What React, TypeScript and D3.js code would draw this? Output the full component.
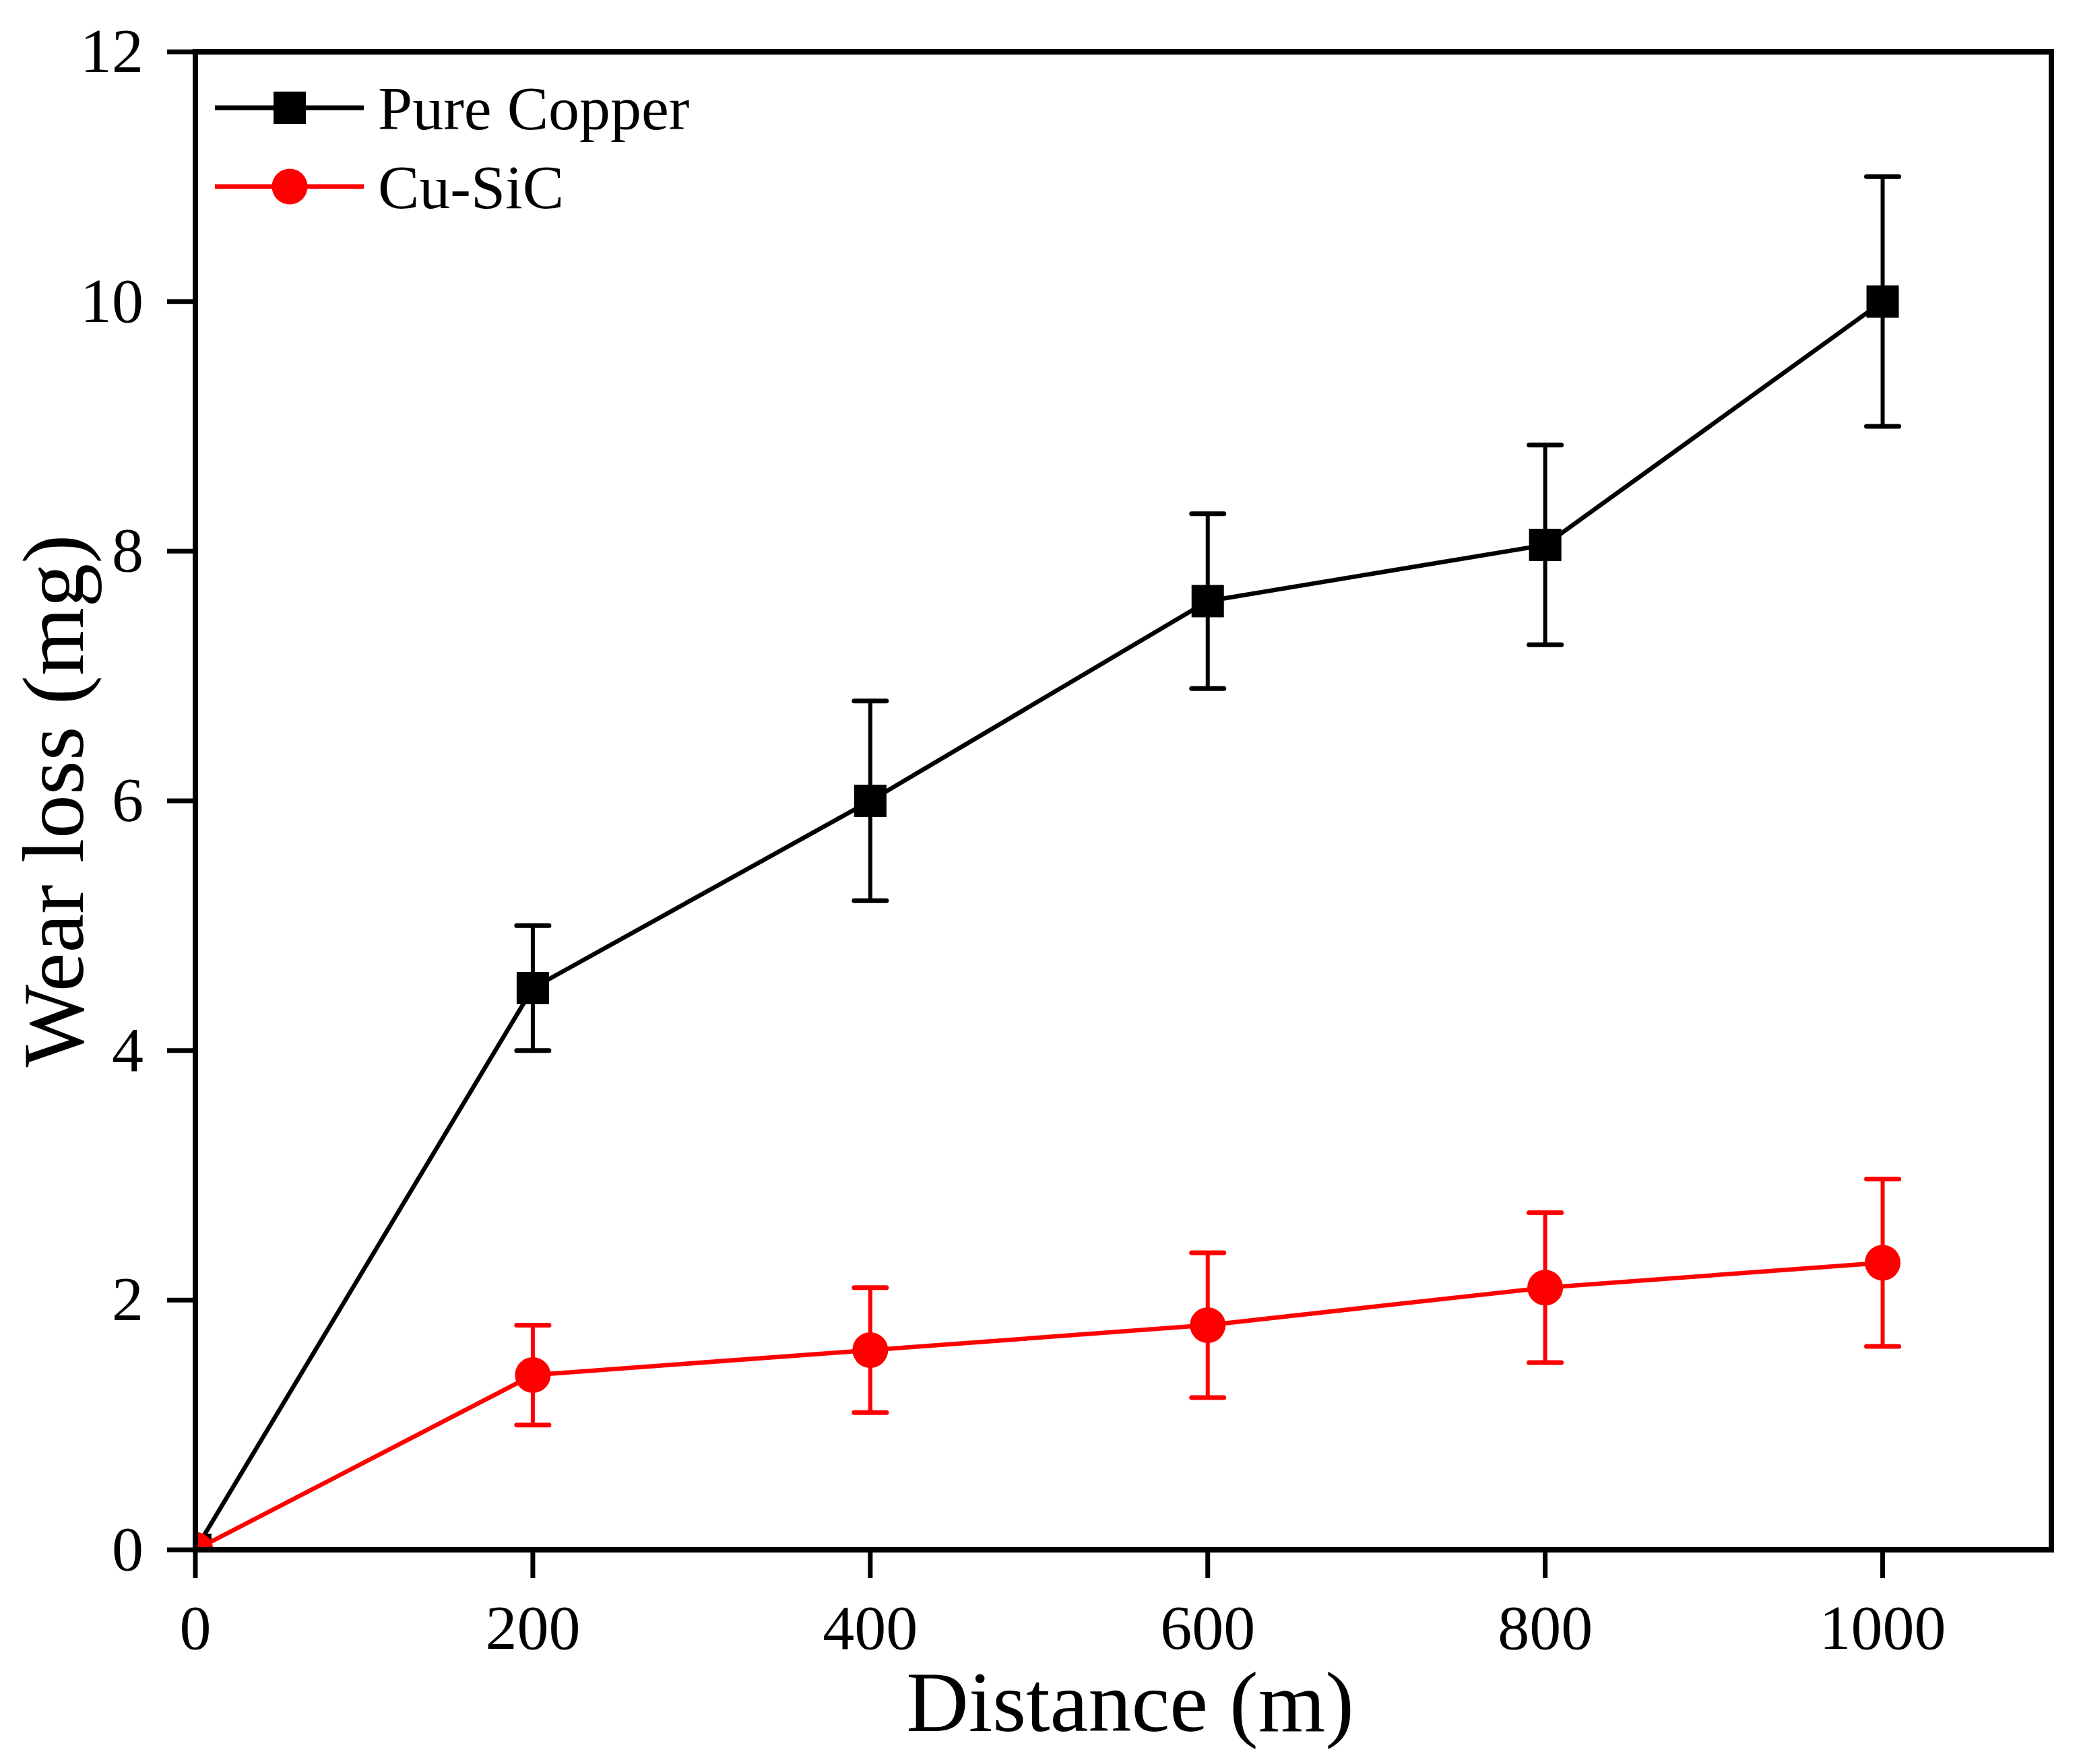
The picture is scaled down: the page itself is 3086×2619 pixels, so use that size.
import * as d3 from "d3";

const distances = [0, 200, 400, 600, 800, 1000];
const pureCopper = [0, 4.5, 6.0, 7.6, 8.05, 10.0];
const pureCopperLow = [0, 4.0, 5.2, 6.9, 7.25, 9.0];
const pureCopperHigh = [0, 5.0, 6.8, 8.3, 8.85, 11.0];
const cuSiC = [0, 1.4, 1.6, 1.8, 2.1, 2.3];
const cuSiCLow = [0, 1.0, 1.1, 1.22, 1.5, 1.63];
const cuSiCHigh = [0, 1.8, 2.1, 2.38, 2.7, 2.97];

const xTicks = [0, 200, 400, 600, 800, 1000];
const yTicks = [0, 2, 4, 6, 8, 10, 12];

const W = 3086;
const H = 2619;
const FONT = "'Liberation Serif', 'Times New Roman', serif";

interface Series {
  name: string;
  color: string;
  shape: "square" | "circle";
  values: number[];
  low: number[];
  high: number[];
}

const series: Series[] = [
  { name: "Pure Copper", color: "#000000", shape: "square", values: pureCopper, low: pureCopperLow, high: pureCopperHigh },
  { name: "Cu-SiC", color: "#ff0000", shape: "circle", values: cuSiC, low: cuSiCLow, high: cuSiCHigh },
];

function Marker({ shape, cx, cy, color }: { shape: string; cx: number; cy: number; color: string }) {
  if (shape === "square") {
    return <rect x={cx - 24} y={cy - 24} width={48} height={48} fill={color} />;
  }
  return <circle cx={cx} cy={cy} r={26.5} fill={color} />;
}

export default function App() {
  const x = d3.scaleLinear().domain([0, 1100]).range([290, 3045]);
  const y = d3.scaleLinear().domain([0, 12]).range([2301, 77]);
  const [x0, x1] = x.range();
  const [y0, y1] = y.range();

  const line = d3
    .line<number>()
    .x((_, i) => x(distances[i]))
    .y((d) => y(d));

  return (
    <svg
      width={W}
      height={H}
      viewBox={`0 0 ${W} ${H}`}
      style={{ position: "absolute", left: 0, top: 0, background: "#fff" }}
      fontFamily={FONT}
    >
      <defs>
        <clipPath id="plot-clip">
          <rect x={x0} y={y1} width={x1 - x0} height={y0 - y1} />
        </clipPath>
      </defs>

      {/* data */}
      <g clipPath="url(#plot-clip)">
        {series.map((s) => (
          <g key={s.name}>
            <path d={line(s.values) ?? ""} fill="none" stroke={s.color} strokeWidth={6.5} strokeLinejoin="round" />
            {distances.map((d, i) =>
              s.low[i] === s.high[i] ? null : (
                <g key={d} stroke={s.color} strokeWidth={6}>
                  <line x1={x(d)} x2={x(d)} y1={y(s.low[i])} y2={y(s.high[i])} />
                  <line x1={x(d) - 24} x2={x(d) + 24} y1={y(s.low[i])} y2={y(s.low[i])} strokeWidth={7} strokeLinecap="round" />
                  <line x1={x(d) - 24} x2={x(d) + 24} y1={y(s.high[i])} y2={y(s.high[i])} strokeWidth={7} strokeLinecap="round" />
                </g>
              )
            )}
            {distances.map((d, i) => (
              <Marker key={d} shape={s.shape} cx={x(d)} cy={y(s.values[i])} color={s.color} />
            ))}
          </g>
        ))}
      </g>

      {/* frame */}
      <rect x={x0} y={y1} width={x1 - x0} height={y0 - y1} fill="none" stroke="#000" strokeWidth={8} />

      {/* x axis */}
      {xTicks.map((t) => (
        <g key={t}>
          <line x1={x(t)} x2={x(t)} y1={y0} y2={y0 + 42} stroke="#000" strokeWidth={7} />
          <text x={x(t)} y={y0 + 147} textAnchor="middle" fontSize={94} fill="#000">
            {t}
          </text>
        </g>
      ))}
      <text x={(x0 + x1) / 2 + 10} y={2570} textAnchor="middle" fontSize={128} fill="#000">
        Distance (m)
      </text>

      {/* y axis */}
      {yTicks.map((t) => (
        <g key={t}>
          <line x1={x0 - 42} x2={x0} y1={y(t)} y2={y(t)} stroke="#000" strokeWidth={7} />
          <text x={213} y={y(t) + 30} textAnchor="end" fontSize={94} fill="#000">
            {t}
          </text>
        </g>
      ))}
      <text
        transform={`translate(123,${(y0 + y1) / 2}) rotate(-90)`}
        textAnchor="middle"
        fontSize={130}
        fill="#000"
      >
        Wear loss (mg)
      </text>

      {/* legend */}
      {series.map((s, i) => {
        const ly = 160 + i * 117;
        return (
          <g key={s.name}>
            <line x1={319} x2={540} y1={ly} y2={ly} stroke={s.color} strokeWidth={7} />
            <Marker shape={s.shape} cx={430} cy={ly} color={s.color} />
            <text x={561} y={ly + 32} fontSize={92} fill="#000">
              {s.name}
            </text>
          </g>
        );
      })}
    </svg>
  );
}
